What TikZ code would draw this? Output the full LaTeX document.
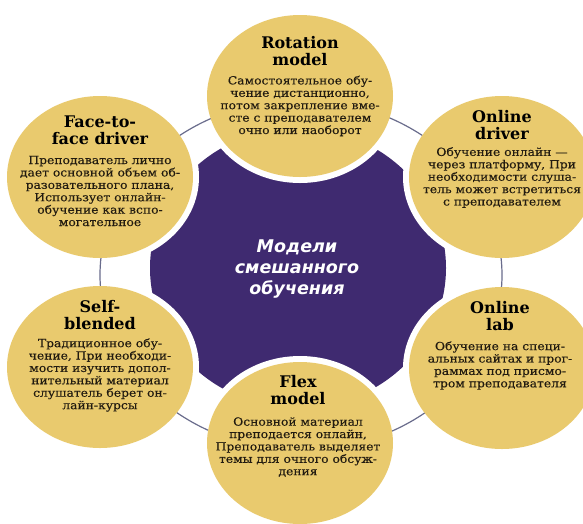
\documentclass[tikz,border=0pt]{standalone}
\usepackage{fontspec}
\setmainfont{DejaVu Serif}
\newfontfamily\bodyfont{DejaVu Serif}[FakeStretch=1.1,FakeBold=0.3]
\newfontfamily\hubfont{DejaVu Sans}
\definecolor{discgold}{RGB}{233,202,110}
\definecolor{hubviolet}{RGB}{63,42,112}
\definecolor{ringgray}{RGB}{105,108,140}
\definecolor{inkbrown}{RGB}{34,27,16}

\begin{document}
\begin{tikzpicture}[x=1pt,y=-1pt,
  headtext/.style={font=\fontsize{16}{17}\selectfont\bfseries, text=black, align=center, inner sep=0pt},
  bodytext/.style={font=\bodyfont\fontsize{11.2}{12.4}\selectfont, text=inkbrown, align=center, inner sep=0pt},
  hubtext/.style={font=\hubfont\fontsize{17.5}{21}\selectfont\bfseries\itshape, text=white, align=center, inner sep=0pt},
]
\useasboundingbox (0,0) rectangle (583,523);
\clip (0,0) rectangle (583,523);
\fill[white] (0,0) rectangle (583,523);

% centres of the six model discs
\coordinate (cRot)  at (300,96);
\coordinate (cFtf)  at (100,177);
\coordinate (cOnd)  at (502,177);
\coordinate (cSelf) at (100,367);
\coordinate (cLab)  at (502,368);
\coordinate (cFlex) at (300,443);

% central hub
\fill[hubviolet] (298,268) ellipse [x radius=148, y radius=140];

% white gaps around the discs
\foreach \c in {cRot,cFtf,cOnd,cSelf,cLab,cFlex}
  \fill[white] (\c) ellipse [x radius=99, y radius=87];

% thin ring joining the discs
\draw[ringgray, line width=1.2pt] (301,275) ellipse [x radius=201, y radius=175];

% discs
\foreach \c in {cRot,cFtf,cOnd,cSelf,cLab,cFlex}
  \fill[discgold] (\c) ellipse [x radius=93, y radius=81];

% hub title
\node[hubtext] (hub) at (297,269) {Модели\\смешанного\\обучения};

% Rotation model
\node[headtext] (rotHead) at (300,51) {Rotation\\model};
\node[bodytext] (rotBody) at (300,106) {Самостоятельное обу-\\чение дистанционно,\\потом закрепление вме-\\сте с преподавателем\\очно или наоборот};

% Face-to-face driver
\node[headtext] (ftfHead) at (100,130) {Face-to-\\face driver};
\node[bodytext] (ftfBody) at (100,191) {Преподаватель лично\\дает основной объем об-\\разовательного плана,\\Использует онлайн-\\обучение как вспо-\\могательное};

% Online driver
\node[headtext] (ondHead) at (502,125) {Online\\driver};
\node[bodytext] (ondBody) at (502,177.5) {Обучение онлайн —\\через платформу, При\\необходимости слуша-\\тель может встретиться\\с преподавателем};

% Self-blended
\node[headtext] (selfHead) at (100,315) {Self-\\blended};
\node[bodytext] (selfBody) at (100,375) {Традиционное обу-\\чение, При необходи-\\мости изучить допол-\\нительный материал\\слушатель берет он-\\лайн-курсы};

% Online lab
\node[headtext] (labHead) at (500,316) {Online\\lab};
\node[bodytext] (labBody) at (500,365.5) {Обучение на специ-\\альных сайтах и прог-\\раммах под присмо-\\тром преподавателя};

% Flex model
\node[headtext] (flexHead) at (298,390) {Flex\\model};
\node[bodytext] (flexBody) at (298,447) {Основной материал\\преподается онлайн,\\Преподаватель выделяет\\темы для очного обсуж-\\дения};
\end{tikzpicture}
\end{document}
